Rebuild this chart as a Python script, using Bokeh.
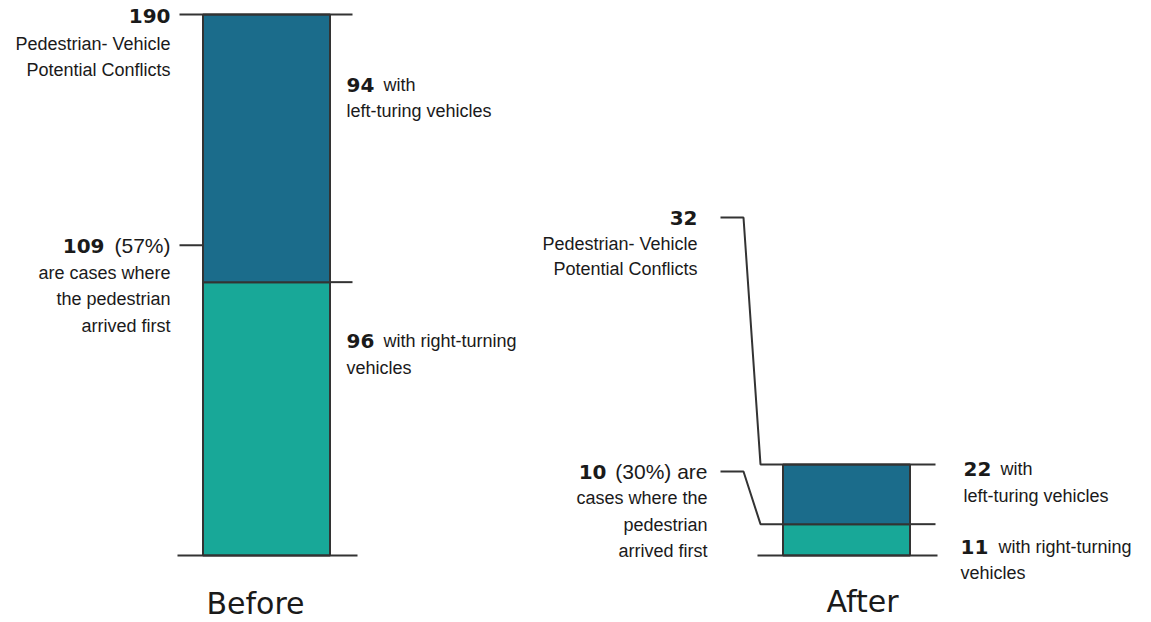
from bokeh.plotting import figure
from bokeh.models import Range1d
from bokeh.core.properties import value
from bokeh.embed import file_html
from bokeh.resources import INLINE

# ---------------- data ----------------
periods = ["Before", "After"]
total_conflicts = [190, 32]
left_turning = [94, 22]
right_turning = [96, 11]
ped_first = [109, 10]
ped_first_pct = [57, 30]

# ---------------- layout ----------------
W, H = 1151, 622
BASE_PX = 555          # pixel row of the zero line
TOP_PX = 14            # pixel row of the largest total
K = (BASE_PX - TOP_PX) / max(total_conflicts)   # pixels per conflict


def py(pixel_row):
    """layout helper: pixel row -> data y"""
    return (BASE_PX - pixel_row) / K


bar_x = [266, 846]
bar_w = 127
DARK = "#1b6c8b"
TEAL = "#18a898"
EDGE = "#333333"
TXT = "#1a1a1a"
DESC_FONT = "Liberation Sans"
NUM_FONT = "DejaVu Sans"

p = figure(width=W, height=H, output_backend="svg", toolbar_location=None,
           x_axis_type=None, y_axis_type=None, min_border=0,
           x_range=Range1d(0, W), y_range=Range1d(py(H), py(0)))
p.grid.visible = False
p.outline_line_color = None
p.background_fill_color = "white"
p.border_fill_color = "white"

lefts = [x - bar_w / 2 for x in bar_x]
rights = [x + bar_w / 2 for x in bar_x]

# stacked bars: right-turning at the bottom, left-turning on top
p.quad(left=lefts, right=rights, bottom=[0, 0], top=right_turning,
       fill_color=TEAL, line_color=EDGE, line_width=2)
p.quad(left=lefts, right=rights, bottom=right_turning, top=total_conflicts,
       fill_color=DARK, line_color=EDGE, line_width=2)


def ln(xs, ys):
    p.line(x=xs, y=ys, line_color=EDGE, line_width=2)


def txt(x, ypx, s, align="left", bold=False, size=18, font=None):
    f = font or (NUM_FONT if bold else DESC_FONT)
    p.text(x=[x], y=[py(ypx)], text=[s], text_align=align,
           text_baseline="middle", text_font=value(f),
           text_font_size=f"{size}px",
           text_font_style="bold" if bold else "normal",
           text_color=TXT)


# ---- Before guide lines ----
ln([179, 352], [total_conflicts[0]] * 2)
ln([179, lefts[0]], [ped_first[0]] * 2)
ln([rights[0], 352], [right_turning[0]] * 2)
ln([177, 357], [0, 0])

# ---- After guide lines ----
ln([720, 743, 760, 935], [py(217), py(217), total_conflicts[1], total_conflicts[1]])
ln([720, 743, 760, lefts[1]], [py(471), py(471), right_turning[1], right_turning[1]])
ln([rights[1], 935], [right_turning[1]] * 2)
ln([757, 937], [0, 0])

# ---- Before texts ----
txt(170, 15, f"{total_conflicts[0]}", "right", True, 20)
txt(170, 43, "Pedestrian- Vehicle", "right")
txt(170, 69, "Potential Conflicts", "right")
txt(104, 245, f"{ped_first[0]}", "right", True, 20)
txt(170, 245, f"({ped_first_pct[0]}%)", "right", size=21)
txt(170, 272, "are cases where", "right")
txt(170, 298, "the pedestrian", "right")
txt(170, 325, "arrived first", "right")

txt(346, 84, f"{left_turning[0]}", "left", True, 20)
txt(383, 84, "with", "left")
txt(346, 110, "left-turing vehicles", "left")
txt(346, 340, f"{right_turning[0]}", "left", True, 20)
txt(383, 340, "with right-turning", "left")
txt(346, 367, "vehicles", "left")

# ---- After texts ----
txt(697, 217, f"{total_conflicts[1]}", "right", True, 20)
txt(697, 243, "Pedestrian- Vehicle", "right")
txt(697, 268, "Potential Conflicts", "right")
txt(606, 471, f"{ped_first[1]}", "right", True, 20)
txt(707, 471, f"({ped_first_pct[1]}%) are", "right", size=21)
txt(707, 497, "cases where the", "right")
txt(707, 524, "pedestrian", "right")
txt(707, 550, "arrived first", "right")

txt(963, 468, f"{left_turning[1]}", "left", True, 20)
txt(1000, 468, "with", "left")
txt(963, 495, "left-turing vehicles", "left")
txt(960, 546, f"{right_turning[1]}", "left", True, 20)
txt(998, 546, "with right-turning", "left")
txt(960, 572, "vehicles", "left")

# ---- period labels ----
txt(255, 603, periods[0], "center", False, 30, "DejaVu Sans")
txt(862, 601, periods[1], "center", False, 30, "DejaVu Sans")

open("out.html", "w").write(file_html(p, INLINE))
